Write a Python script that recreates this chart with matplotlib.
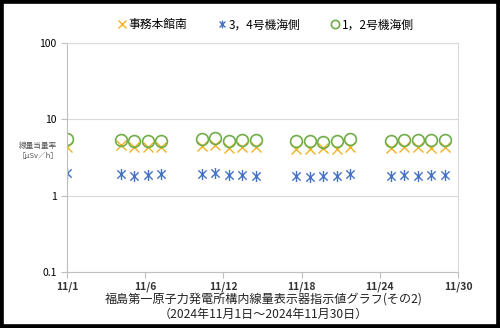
import numpy as np
import matplotlib
matplotlib.use("Agg")
from matplotlib import pyplot as plt
from matplotlib.path import Path
from matplotlib.patches import Rectangle

plt.rcParams['font.family'] = ['Noto Sans CJK JP', 'DejaVu Sans']

# day of November 2024
days = [1, 5, 6, 7, 8, 11, 12, 13, 14, 15, 18, 19, 20, 21, 22, 25, 26, 27, 28, 29]

honkan = [4.4, 4.55, 4.3, 4.4, 4.4, 4.45, 4.55, 4.25, 4.3, 4.35,
          4.15, 4.15, 4.2, 4.15, 4.4, 4.25, 4.3, 4.3, 4.25, 4.3]
unit34 = [1.98, 1.92, 1.83, 1.88, 1.92, 1.92, 1.98, 1.88, 1.88, 1.83,
          1.83, 1.74, 1.79, 1.79, 1.92, 1.79, 1.88, 1.79, 1.88, 1.88]
unit12 = [5.55, 5.35, 5.15, 5.25, 5.25, 5.55, 5.75, 5.25, 5.3, 5.4,
          5.15, 5.15, 5.1, 5.15, 5.55, 5.25, 5.4, 5.4, 5.3, 5.4]

xticks = [1, 6.8, 12.6, 18.4, 24.2, 30]
xlabels = ["11/1", "11/6", "11/12", "11/18", "11/24", "11/30"]

star = Path([(0, -1), (0, 1), (-0.75, -0.75), (0.75, 0.75), (-0.75, 0.75), (0.75, -0.75)],
            [Path.MOVETO, Path.LINETO, Path.MOVETO, Path.LINETO, Path.MOVETO, Path.LINETO])

fig = plt.figure(figsize=(5.0, 3.28), dpi=100)
ax = fig.add_axes([0.134, 0.1707, 0.782, 0.698])

ax.plot(days, honkan, linestyle='none', marker='x', ms=7.5, mew=1.0,
        color='#F0B323', label='事務本館南')
ax.plot(days, unit34, linestyle='none', marker=star, ms=8, mew=1.0,
        color='#4472C4', label='3，4号機海側')
ax.plot(days, unit12, linestyle='none', marker='o', ms=8.5, mew=1.2,
        mfc='none', mec='#70AD47', label='1，2号機海側')

ax.set_yscale('log')
ax.set_ylim(0.1, 100)
ax.set_xlim(1, 30)
ax.set_yticks([0.1, 1, 10, 100])
ax.set_yticklabels(["0.1", "1", "10", "100"])
ax.minorticks_off()
ax.set_xticks(xticks)
ax.set_xticklabels(xlabels, fontsize=7.5, fontweight='bold', color='#333333')
ax.tick_params(axis='y', labelsize=7.5, colors='#BFBFBF', labelcolor='black',
               length=4, width=0.8)
ax.tick_params(axis='x', colors='#BFBFBF', labelcolor='#333333', length=4,
               width=0.8, pad=2.5)
ax.grid(axis='y', color='#D9D9D9', lw=0.8)
for s in ['left', 'bottom']:
    ax.spines[s].set_color('#BFBFBF')
for s in ['top', 'right']:
    ax.spines[s].set_color('#D9D9D9')

fig.text(0.076, 0.54, "線量当量率\n［μSv／h］", fontsize=5.5, color='#555555',
         ha='center', va='center', linespacing=1.4)

fig.legend(loc='center', bbox_to_anchor=(0.53, 0.924), ncol=3, frameon=False,
           fontsize=8.5, handletextpad=0.1, columnspacing=2.4, handlelength=1.0,
           markerscale=0.7)

fig.text(0.527, 0.087, "福島第一原子力発電所構内線量表示器指示値グラフ(その2)",
         fontsize=8.7, ha='center', va='center', color='#222222')
fig.text(0.527, 0.041, "（2024年11月1日～2024年11月30日）",
         fontsize=8.7, ha='center', va='center', color='#222222')

fig.add_artist(Rectangle((0, 0), 1, 1, transform=fig.transFigure, fill=False,
                         lw=5.5, ec='black'))

fig.savefig("out.png", dpi=100)
plt.close('all')
